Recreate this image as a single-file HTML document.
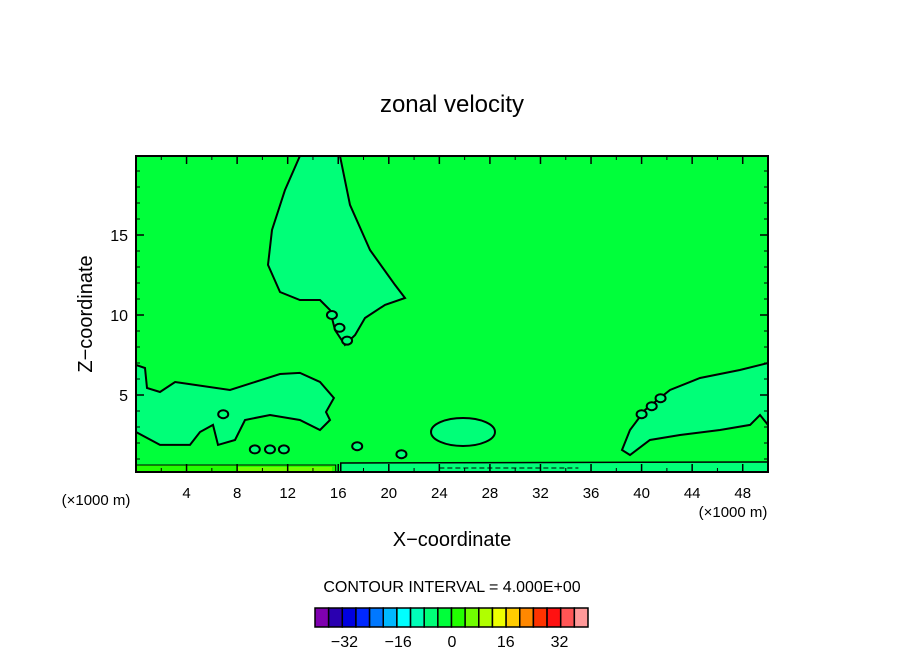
<!DOCTYPE html>
<html><head><meta charset="utf-8"><style>
body{margin:0;background:#fff;}
svg text{font-family:"Liberation Sans",sans-serif;fill:#000;}
</style></head><body>
<svg id="c" width="904" height="654" xmlns="http://www.w3.org/2000/svg">
<text x="452" y="112" font-size="24" text-anchor="middle">zonal velocity</text>
<g id="plot"></g>
<text x="452" y="546" font-size="20" text-anchor="middle">X−coordinate</text>
<text transform="translate(92,314) rotate(-90)" font-size="20" text-anchor="middle">Z−coordinate</text>
<text x="96" y="505" font-size="15" text-anchor="middle">(×1000 m)</text>
<text x="733" y="517" font-size="15" text-anchor="middle">(×1000 m)</text>
<text x="452" y="592" font-size="16" text-anchor="middle">CONTOUR INTERVAL = 4.000E+00</text>
<g id="cbar"></g>
</svg>
<script>
const xTicks=[4,8,12,16,20,24,28,32,36,40,44,48];
const zTicks=[5,10,15];
const upperBlobX=[12.97,11.79,10.76,10.44,11.39,12.97,14.56,15.35,15.74,16.53,17.33,18.12,19.70,21.28,20.49,18.51,16.93,16.14];
const upperBlobZ=[19.94,17.81,15.31,13.13,11.44,10.94,10.94,10.31,9.06,8.13,8.75,9.81,10.63,11.06,11.88,14.06,16.88,19.94];
const leftBlobX=[0,0.71,0.87,1.9,3.09,7.44,11.39,12.97,14.56,15.66,15.03,15.35,14.56,12.97,10.6,8.62,7.83,6.49,6.09,5.06,4.27,1.9,0];
const leftBlobZ=[6.88,6.69,5.44,5.19,5.81,5.31,6.31,6.38,5.81,4.81,3.94,3.44,2.81,3.44,3.75,3.44,2.19,1.88,3.13,2.69,1.88,1.88,2.69];
const rightBlobX=[50,47.78,44.62,42.25,40.27,39.08,38.45,39.08,40.66,43.04,46.2,48.58,49.37,50];
const rightBlobZ=[7.0,6.56,6.06,5.31,4.06,2.81,1.56,1.25,2.19,2.5,2.81,3.13,3.75,3.13];
const midBlob=[25.87,2.69,2.53,0.875];
const loopsX=[15.5,16.1,16.7,6.9,9.4,10.6,11.7,40.0,40.8,41.5,17.5,21.0];
const loopsZ=[10.0,9.2,8.4,3.8,1.6,1.6,1.6,3.8,4.3,4.8,1.8,1.3];
const cbarColors=["#7f00b0","#2a00b0","#0000e0","#0028ff","#0078ff","#00b8ff","#00ffff","#00ffb8","#00ff78","#00ff3a","#22ff00","#70ff00","#b0ff00","#eeff00","#ffcc00","#ff8800","#ff3300","#ff1111","#ff5555","#ff9999"];
const cbarLevels=[-36,-32,-28,-24,-20,-16,-12,-8,-4,0,4,8,12,16,20,24,28,32,36,40];
const cbarLabels=[-32,-16,0,16,32];

const NS="http://www.w3.org/2000/svg";
const X0=136,X1=768,Y0=156,Y1=472;
const sx=v=>X0+v*(X1-X0)/50;
const sz=v=>475-v*16;
function mk(t,a,p){const e=document.createElementNS(NS,t);for(const k in a)e.setAttribute(k,a[k]);p.appendChild(e);return e;}
const P=document.getElementById('plot');
let e=mk('rect',{x:X0,y:Y0,width:X1-X0,height:Y1-Y0,fill:'#00ff3a'},P);


function poly(xs,zs,name){const d=xs.map((v,i)=>(i?'L':'M')+sx(v).toFixed(1)+','+sz(zs[i]).toFixed(1)).join('')+'Z';
 const el=mk('path',{d:d,fill:'#00ff78',stroke:'#000','stroke-width':2},P);
 
 }
poly(upperBlobX,upperBlobZ,'upper-negative-region');
poly(leftBlobX,leftBlobZ,'lower-left-negative-region');
poly(rightBlobX,rightBlobZ,'right-negative-region');
e=mk('ellipse',{cx:sx(midBlob[0]),cy:sz(midBlob[1]),rx:midBlob[2]*12.64,ry:midBlob[3]*16,fill:'#00ff78',stroke:'#000','stroke-width':2},P);


loopsX.forEach((v,i)=>{const l=mk('ellipse',{cx:sx(v),cy:sz(loopsZ[i]),rx:5,ry:4,fill:'#00ff78',stroke:'#000','stroke-width':2},P);
 
 });
e=mk('rect',{x:sx(0),y:465,width:sx(15.8)-sx(0),height:7,fill:'#22ff00',stroke:'#000','stroke-width':1},P);


e=mk('rect',{x:sx(8),y:467,width:sx(15.5)-sx(8),height:5,fill:'#70ff00'},P);


e=mk('path',{d:`M${sx(16.2)},472L${sx(16.2)},463L${sx(50)},462L${sx(50)},472Z`,fill:'#00ff78',stroke:'#000','stroke-width':1.5},P);


e=mk('line',{x1:sx(24),y1:468,x2:sx(35),y2:468,stroke:'#000','stroke-dasharray':'5,3'},P);


e=mk('rect',{x:X0,y:Y0,width:X1-X0,height:Y1-Y0,fill:'none',stroke:'#000','stroke-width':2},P);


xTicks.forEach(t=>{const x=sx(t);
 const l=mk('path',{d:`M${x},${Y1}v-8M${x},${Y0}v8`,stroke:'#000','stroke-width':1.5},P);
 
 
 const tx=mk('text',{x:x,y:Y1+26,'font-size':15,'text-anchor':'middle'},P);tx.textContent=t;
 
 });
for(let t=2;t<50;t+=4){const l=mk('path',{d:`M${sx(t)},${Y1}v-4M${sx(t)},${Y0}v4`,stroke:'#000'},P);
 
 }
zTicks.forEach(t=>{const y=sz(t);
 const l=mk('path',{d:`M${X0},${y}h8M${X1},${y}h-8`,stroke:'#000','stroke-width':1.5},P);
 
 
 const tx=mk('text',{x:X0-8,y:y+6,'font-size':16,'text-anchor':'end'},P);tx.textContent=t;
 
 });
for(let t=1;t<20;t++){if(t%5==0)continue;const y=sz(t);if(y<Y0||y>Y1)continue;
 const l=mk('path',{d:`M${X0},${y}h4M${X1},${y}h-4`,stroke:'#000'},P);
 
 }
const C=document.getElementById('cbar');
const cbX=315,cbW=273/cbarColors.length;
const cbPos=v=>cbX+(v-cbarLevels[0]+4)/4*cbW;
cbarColors.forEach((c,i)=>{const r=mk('rect',{x:cbPos(cbarLevels[i])-cbW,y:608,width:cbW,height:19,fill:c,stroke:'#000','stroke-width':1.5},C);
 
 });
const lblPos=v=>452+v*3.36;
cbarLabels.forEach(v=>{const t=mk('text',{x:lblPos(v),y:647,'font-size':16,'text-anchor':'middle'},C);t.textContent=(v<0?'−':'')+Math.abs(v);
 
 });
</script>
</body></html>
